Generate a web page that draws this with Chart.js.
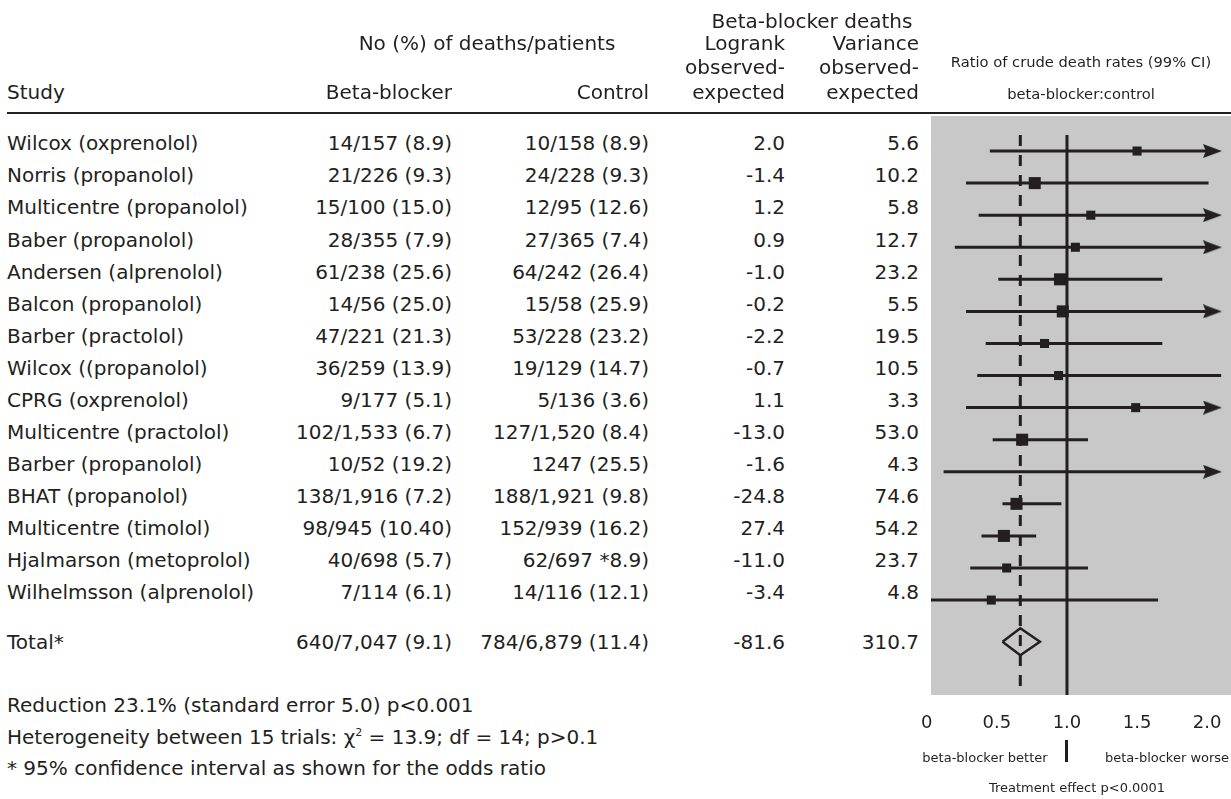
<!DOCTYPE html>
<html>
<head>
<meta charset="utf-8">
<script src="https://cdn.jsdelivr.net/npm/chart.js@4.4.1/dist/chart.umd.min.js"></script>
<style>
  body { margin: 0; background: #fff; }
  #page { position: relative; width: 1231px; height: 799px; overflow: hidden;
          font-family: 'DejaVu Sans', Verdana, sans-serif; color: #231f20; }
  #chart { position: absolute; left: 920px; top: 0; }
  .t { position: absolute; white-space: nowrap; }
  #rule { position: absolute; left: 7px; top: 112px; width: 1224px; height: 2px; background: #231f20; }
</style>
</head>
<body>
<div id="page">
  <canvas id="chart" width="311" height="799"></canvas>
  <div id="rule"></div>
</div>
<script>
// Table data
const studies = ['Wilcox (oxprenolol)', 'Norris (propanolol)', 'Multicentre (propanolol)', 'Baber (propanolol)',
  'Andersen (alprenolol)', 'Balcon (propanolol)', 'Barber (practolol)', 'Wilcox ((propanolol)', 'CPRG (oxprenolol)',
  'Multicentre (practolol)', 'Barber (propanolol)', 'BHAT (propanolol)', 'Multicentre (timolol)',
  'Hjalmarson (metoprolol)', 'Wilhelmsson (alprenolol)'];
const bbDeaths = ['14/157 (8.9)', '21/226 (9.3)', '15/100 (15.0)', '28/355 (7.9)', '61/238 (25.6)', '14/56 (25.0)',
  '47/221 (21.3)', '36/259 (13.9)', '9/177 (5.1)', '102/1,533 (6.7)', '10/52 (19.2)', '138/1,916 (7.2)',
  '98/945 (10.40)', '40/698 (5.7)', '7/114 (6.1)'];
const ctrlDeaths = ['10/158 (8.9)', '24/228 (9.3)', '12/95 (12.6)', '27/365 (7.4)', '64/242 (26.4)', '15/58 (25.9)',
  '53/228 (23.2)', '19/129 (14.7)', '5/136 (3.6)', '127/1,520 (8.4)', '1247 (25.5)', '188/1,921 (9.8)',
  '152/939 (16.2)', '62/697 *8.9)', '14/116 (12.1)'];
const logrankOE = [2.0, -1.4, 1.2, 0.9, -1.0, -0.2, -2.2, -0.7, 1.1, -13.0, -1.6, -24.8, 27.4, -11.0, -3.4];
const varianceOE = [5.6, 10.2, 5.8, 12.7, 23.2, 5.5, 19.5, 10.5, 3.3, 53.0, 4.3, 74.6, 54.2, 23.7, 4.8];

// Forest plot data (ratio of crude death rates, 99% CI); null upper = runs off the scale
const ratio = [1.50, 0.77, 1.17, 1.06, 0.95, 0.97, 0.84, 0.94, 1.49, 0.68, null, 0.64, 0.55, 0.57, 0.46];
const ciLow = [0.45, 0.28, 0.37, 0.20, 0.51, 0.28, 0.42, 0.36, 0.28, 0.47, 0.12, 0.54, 0.39, 0.31, 0.0];
const ciHigh = [null, 2.01, null, null, 1.68, null, 1.68, 2.10, null, 1.15, null, 0.96, 0.78, 1.15, 1.65];
const boxWeight = [1, 2, 1, 1, 2, 2, 1, 1, 1, 2, 0, 2, 2, 1, 1]; // 1 = small box, 2 = large box

const totalLabel = 'Total*';
const totalBB = '640/7,047 (9.1)';
const totalCtrl = '784/6,879 (11.4)';
const totalLogrank = -81.6;
const totalVariance = 310.7;
const totalRatio = [0.54, 0.667, 0.807]; // low, estimate, high

const xTickValues = [0, 0.5, 1, 1.5, 2];
const xTickLabels = ['0', '0.5', '1.0', '1.5', '2.0'];

// Styling / layout
const INK = '#231f20';
const PANEL = '#c8c8c8';
const FONT = "'DejaVu Sans', Verdana, sans-serif";
const TEXT_SIZE = 20;
const TOTAL_ROW = 15.3;
const DIAMOND_H = 0.42;
const ARROW_TIP = 2.105;
const ARROW_LEN = 0.135;
const CANVAS_LEFT = 920;

// arrow head image used as point style
const arrowImg = document.createElement('canvas');
arrowImg.width = 19;
arrowImg.height = 14;
(function () {
    const c = arrowImg.getContext('2d');
    c.fillStyle = INK;
    c.beginPath();
    c.moveTo(0, 0);
    c.lineTo(19, 7);
    c.lineTo(0, 14);
    c.lineTo(3, 7);
    c.closePath();
    c.fill();
})();

const datasets = [];

// boxes
datasets.push({
    order: 0,
    data: ratio.map((r, i) => ({ x: r, y: i })),
    pointStyle: 'rect',
    pointRadius: boxWeight.map(w => w === 2 ? 8.5 : (w === 1 ? 6.4 : 0)),
    pointBackgroundColor: INK,
    pointBorderWidth: 0
});

// arrow heads for intervals running off the scale
const arrowRows = [];
ciHigh.forEach((h, i) => { if (h === null) arrowRows.push(i); });
datasets.push({
    order: 1,
    data: arrowRows.map(i => ({ x: ARROW_TIP - ARROW_LEN / 2, y: i })),
    pointStyle: arrowImg,
    pointRadius: 8
});

// diamond for the total
datasets.push({
    order: 2,
    showLine: true,
    data: [
        { x: totalRatio[0], y: TOTAL_ROW },
        { x: totalRatio[1], y: TOTAL_ROW - DIAMOND_H },
        { x: totalRatio[2], y: TOTAL_ROW },
        { x: totalRatio[1], y: TOTAL_ROW + DIAMOND_H },
        { x: totalRatio[0], y: TOTAL_ROW }
    ],
    borderColor: INK,
    borderWidth: 2.5,
    borderJoinStyle: 'miter',
    pointRadius: 0,
    fill: false
});

// confidence interval lines
studies.forEach((s, i) => {
    const hi = ciHigh[i] === null ? ARROW_TIP - ARROW_LEN * 0.8 : ciHigh[i];
    datasets.push({
        order: 3,
        showLine: true,
        data: [{ x: ciLow[i], y: i }, { x: hi, y: i }],
        borderColor: INK,
        borderWidth: 3,
        pointRadius: 0
    });
});

// overall estimate (dashed) and line of no effect
datasets.push({
    order: 4,
    showLine: true,
    data: [{ x: totalRatio[1], y: -0.5 }, { x: totalRatio[1], y: 17 }],
    borderColor: INK,
    borderWidth: 3,
    borderDash: [11, 9],
    pointRadius: 0
});
datasets.push({
    order: 4,
    showLine: true,
    data: [{ x: 1, y: -0.5 }, { x: 1, y: 17 }],
    borderColor: INK,
    borderWidth: 3,
    pointRadius: 0
});

// grey panel behind the plot
const panelBackground = {
    id: 'panelBackground',
    beforeDraw(chart) {
        const a = chart.chartArea;
        const c = chart.ctx;
        c.save();
        c.fillStyle = PANEL;
        c.fillRect(a.left, a.top, a.right - a.left, a.bottom - a.top);
        c.restore();
    }
};

const ctx = document.getElementById('chart').getContext('2d');
const chart = new Chart(ctx, {
    type: 'scatter',
    data: { datasets: datasets },
    options: {
        responsive: false,
        animation: false,
        layout: { autoPadding: false, padding: { left: 11, right: 0, top: 0, bottom: 64.4 } },
        plugins: {
            legend: { display: false },
            tooltip: { enabled: false },
            title: {
                display: true,
                text: 'Ratio of crude death rates (99% CI)',
                color: INK,
                font: { family: FONT, size: 14.7, weight: 'normal' },
                padding: { top: 53.9, bottom: 0 }
            },
            subtitle: {
                display: true,
                text: 'beta-blocker:control',
                color: INK,
                font: { family: FONT, size: 14.7, weight: 'normal' },
                padding: { top: 14.6, bottom: 12.3 }
            }
        },
        scales: {
            x: {
                type: 'linear',
                min: 0.03,
                max: 2.17,
                grid: { display: true, color: 'rgba(0,0,0,0)', drawOnChartArea: false, drawTicks: true, tickLength: 18 },
                border: { display: false },
                afterBuildTicks: axis => { axis.ticks = xTickValues.map(v => ({ value: v })); },
                afterFit: axis => { axis.paddingLeft = 0; axis.paddingRight = 0; },
                ticks: {
                    padding: 0,
                    autoSkip: false,
                    maxRotation: 0,
                    color: INK,
                    font: { family: FONT, size: 18 },
                    callback: (v, i) => xTickLabels[i]
                }
            },
            y: { type: 'linear', reverse: true, min: -1.09, max: 16.96, display: false }
        }
    },
    plugins: [panelBackground]
});

// Table text, placed on the chart's own rows
const page = document.getElementById('page');
function addText(str, x, y, align, size, html) {
    size = size || TEXT_SIZE;
    const lh = Math.round(size * 1.2);
    const el = document.createElement('div');
    el.className = 't';
    el.style.fontSize = size + 'px';
    el.style.lineHeight = lh + 'px';
    el.style.top = (y - lh / 2) + 'px';
    if (align === 'right') {
        el.style.left = (x - 400) + 'px'; el.style.width = '400px'; el.style.textAlign = 'right';
    } else if (align === 'center') {
        el.style.left = (x - 300) + 'px'; el.style.width = '600px'; el.style.textAlign = 'center';
    } else {
        el.style.left = x + 'px';
    }
    if (html) el.innerHTML = str; else el.textContent = str;
    page.appendChild(el);
}

// headers
addText('Beta-blocker deaths', 812, 21, 'center');
addText('No (%) of deaths/patients', 487, 43, 'center');
addText('Logrank', 785, 43, 'right');
addText('Variance', 919, 43, 'right');
addText('observed-', 785, 67, 'right');
addText('observed-', 919, 67, 'right');
addText('Study', 7, 91.5, 'left');
addText('Beta-blocker', 452, 91.5, 'right');
addText('Control', 649, 91.5, 'right');
addText('expected', 785, 91.5, 'right');
addText('expected', 919, 91.5, 'right');

// rows
const yScale = chart.scales.y;
const TEXT_SHIFT = -7.7;
studies.forEach((s, i) => {
    const y = yScale.getPixelForValue(i) + TEXT_SHIFT;
    addText(s, 7, y, 'left');
    addText(bbDeaths[i], 452, y, 'right');
    addText(ctrlDeaths[i], 649, y, 'right');
    addText(logrankOE[i].toFixed(1), 785, y, 'right');
    addText(varianceOE[i].toFixed(1), 919, y, 'right');
});
const yTot = yScale.getPixelForValue(TOTAL_ROW);
addText(totalLabel, 7, yTot, 'left');
addText(totalBB, 452, yTot, 'right');
addText(totalCtrl, 649, yTot, 'right');
addText(totalLogrank.toFixed(1), 785, yTot, 'right');
addText(totalVariance.toFixed(1), 919, yTot, 'right');

// footnotes
addText('Reduction 23.1% (standard error 5.0) p&lt;0.001', 7, 705, 'left', TEXT_SIZE, true);
addText('Heterogeneity between 15 trials: &chi;<span style="font-size:11px;position:relative;top:-8px">2</span> = 13.9; df = 14; p&gt;0.1', 7, 737, 'left', TEXT_SIZE, true);
addText('* 95% confidence interval as shown for the odds ratio', 7, 768, 'left');

// labels under the axis
addText('beta-blocker better', 985, 758, 'center', 13);
addText('beta-blocker worse', 1167, 758, 'center', 13);
addText('Treatment effect p<0.0001', 1077, 788, 'center', 13);
const bar = document.createElement('div');
bar.style.cssText = 'position:absolute;top:740px;width:3px;height:22px;background:' + INK;
bar.style.left = (CANVAS_LEFT + chart.scales.x.getPixelForValue(1) - 1.5) + 'px';
page.appendChild(bar);
</script>
</body>
</html>
